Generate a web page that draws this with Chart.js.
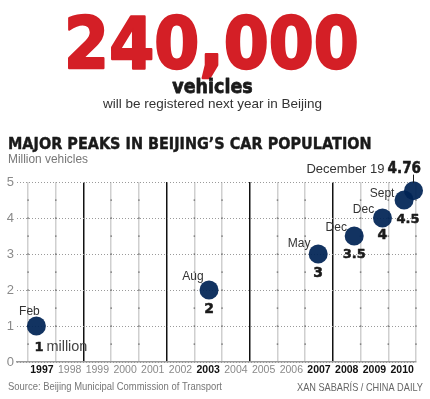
<!DOCTYPE html>
<html>
<head>
<meta charset="utf-8">
<script src="https://cdn.jsdelivr.net/npm/chart.js@4.4.1/dist/chart.umd.min.js"></script>
<style>
  html, body { margin: 0; padding: 0; background: #fff; }
  #wrap { position: relative; width: 430px; height: 399px; }
</style>
</head>
<body>
<div id="wrap"><canvas id="carChart"></canvas></div>
<script>
const yearLabels = ['1997', '1998', '1999', '2000', '2001', '2002', '2003',
                    '2004', '2005', '2006', '2007', '2008', '2009', '2010'];
const boldYears = ['1997', '2003', '2007', '2008', '2009', '2010'];
const dividerYears = [1999, 2002, 2005, 2008];
const peakMonths = ['Feb', 'Aug', 'May', 'Dec', 'Dec', 'Sept', 'December 19'];
const peakDates = [1997.3, 2003.53, 2007.47, 2008.77, 2009.79, 2010.57, 2010.91];
const peakValues = [1, 2, 3, 3.5, 4, 4.5, 4.76];
const peakLabels = ['1', '2', '3', '3.5', '4', '4.5', '4.76'];

// year boundaries for the grid (one more than the labels)
const yearEdges = yearLabels.map(Number).concat(Number(yearLabels[yearLabels.length - 1]) + 1);

// label placement around each dot: [dx, dy] of month text, [dx, dy] of value text
const monthOffsets = [[-7, -11], [-16, -10], [-19, -7], [-18, -5.5], [-19, -5], [-22, -3], [-29, -18]];
const valueOffsets = [[-2, 25], [0, 23], [0, 23], [0, 22], [0, 21], [4, 23], [-26, -18]];

const NAVY = 'rgba(0, 35, 85, 0.93)';

function tickVal(c) {
    return c && c.tick ? c.tick.value : null;
}

function fitText(ctx, text, x, y, font, color, width, align, stroke) {
    ctx.save();
    ctx.font = font;
    ctx.fillStyle = color;
    ctx.textBaseline = 'alphabetic';
    ctx.textAlign = align || 'left';
    const w = ctx.measureText(text).width + (stroke || 0);
    const s = width ? width / w : 1;
    ctx.translate(x, y);
    ctx.scale(s, 1);
    if (stroke) {
        ctx.strokeStyle = color;
        ctx.lineWidth = stroke;
        ctx.lineJoin = 'round';
        ctx.strokeText(text, 0, 0);
    }
    ctx.fillText(text, 0, 0);
    ctx.restore();
}

// small dark marks where the dotted lines cross the grey year lines
const crossMarks = {
    id: 'crossMarks',
    beforeDatasetsDraw(chart) {
        const ctx = chart.ctx;
        const xs = chart.scales.x, ys = chart.scales.y;
        ctx.save();
        ctx.fillStyle = '#666';
        yearEdges.forEach(yr => {
            if (dividerYears.includes(yr)) return;
            const px = xs.getPixelForValue(yr);
            for (let v = 0.5; v < 5; v += 0.5) {
                const py = ys.getPixelForValue(v);
                ctx.fillRect(px - 0.75, py - 0.5, 1.5, 1.2);
            }
        });
        ctx.restore();
    }
};

const textPlugin = {
    id: 'texts',
    afterDraw(chart) {
        const ctx = chart.ctx;
        // headline
        fitText(ctx, '240,000', 211.5, 67.5, 'bold 72px "DejaVu Sans"', '#d41f26', 297, 'center', 2.5);
        fitText(ctx, 'vehicles', 212.5, 93, 'bold 20px "DejaVu Sans"', '#1a1a1a', 81, 'center', 0.8);
        fitText(ctx, 'will be registered next year in Beijing', 212.5, 108, '13px "Liberation Sans"', '#333', 219, 'center');
        fitText(ctx, 'MAJOR PEAKS IN BEIJING\u2019S CAR POPULATION', 8, 149, 'bold 15px "DejaVu Sans"', '#1a1a1a', 364, 'left', 0.4);
        fitText(ctx, 'Million vehicles', 8, 163, '13px "Liberation Sans"', '#777', 80, 'left');
        fitText(ctx, 'Source: Beijing Municipal Commission of Transport', 8, 390, '11px "Liberation Sans"', '#777', 214, 'left');
        fitText(ctx, 'XAN SABAR\u00cdS / CHINA DAILY', 423, 391, '11px "Liberation Sans"', '#666', 126, 'right');

        // point annotations
        const xs = chart.scales.x, ys = chart.scales.y;
        peakValues.forEach((v, i) => {
            const px = xs.getPixelForValue(peakDates[i]);
            const py = ys.getPixelForValue(v);
            const [mx, my] = monthOffsets[i];
            const [vx, vy] = valueOffsets[i];
            if (i === peakValues.length - 1) {
                fitText(ctx, peakMonths[i], px + mx, py + my, '13px "Liberation Sans"', '#333', 0, 'right');
                fitText(ctx, peakLabels[i], px + vx, py + vy, 'bold 15px "DejaVu Sans"', '#1a1a1a', 34, 'left', 0.5);
                ctx.save();
                ctx.strokeStyle = '#1a1a1a';
                ctx.lineWidth = 1;
                ctx.beginPath();
                ctx.moveTo(px, py + my + 2);
                ctx.lineTo(px, py - 8);
                ctx.stroke();
                ctx.restore();
                return;
            }
            fitText(ctx, peakMonths[i], px + mx, py + my, '12px "Liberation Sans"', '#333', 0, 'center');
            if (i === 0) {
                fitText(ctx, peakLabels[i], px + vx, py + vy, 'bold 13px "DejaVu Sans"', '#1a1a1a', 0, 'left', 0.5);
                fitText(ctx, 'million', px + vx + 12, py + vy, '14.5px "Liberation Sans"', '#444', 41, 'left');
            } else {
                const size = peakLabels[i].length > 1 ? 13 : 14;
                fitText(ctx, peakLabels[i], px + vx, py + vy, 'bold ' + size + 'px "DejaVu Sans"', '#1a1a1a', 0, 'center', 0.5);
            }
        });
    }
};

const ctx = document.getElementById('carChart').getContext('2d');
new Chart(ctx, {
    type: 'scatter',
    data: {
        datasets: [{
            data: peakDates.map((d, i) => ({ x: d, y: peakValues[i] })),
            backgroundColor: NAVY,
            borderWidth: 0,
            pointRadius: 9.5,
            pointHoverRadius: 9.5,
            clip: false
        }]
    },
    options: {
        responsive: true,
        maintainAspectRatio: false,
        animation: false,
        events: [],
        layout: { padding: { top: 182, right: 14, bottom: 0, left: 0 } },
        plugins: {
            legend: { display: false },
            tooltip: { enabled: false }
        },
        scales: {
            x: {
                type: 'linear',
                position: 'bottom',
                min: 1996.6,
                max: 2011,
                afterBuildTicks: scale => { scale.ticks = yearEdges.map(v => ({ value: v })); },
                afterFit: scale => { scale.height = 0; },
                ticks: { display: false },
                grid: {
                    drawTicks: false,
                    color: c => dividerYears.includes(tickVal(c)) ? '#111' : '#cfcfcf',
                    lineWidth: 1.5
                },
                border: { display: true, color: '#9a9a9a', width: 1.5 }
            },
            xl: {
                type: 'linear',
                position: 'bottom',
                min: 1996.1,
                max: 2010.5,
                afterBuildTicks: scale => { scale.ticks = yearLabels.map(v => ({ value: Number(v) })); },
                afterFit: scale => { scale.height = 37; },
                grid: { display: false, drawTicks: false },
                border: { display: false },
                ticks: {
                    autoSkip: false,
                    maxRotation: 0,
                    padding: 2,
                    callback: v => String(v),
                    color: c => boldYears.includes(String(tickVal(c))) ? '#111' : '#8a8a8a',
                    font: c => ({
                        family: '"Liberation Sans"',
                        size: 10.5,
                        weight: boldYears.includes(String(tickVal(c))) ? 'bold' : 'normal'
                    })
                }
            },
            y: {
                min: 0,
                max: 5,
                afterFit: scale => { scale.width = 17; },
                ticks: {
                    stepSize: 0.5,
                    padding: 3,
                    color: '#8a8a8a',
                    font: { family: '"Liberation Sans"', size: 13 },
                    callback: v => Number.isInteger(v) ? v : ''
                },
                grid: {
                    drawTicks: false,
                    color: c => Number.isInteger(tickVal(c)) ? '#9a9a9a' : '#c4c4c4',
                    lineWidth: 1
                },
                border: { display: false, dash: [1, 2] }
            }
        }
    },
    plugins: [crossMarks, textPlugin]
});
</script>
</body>
</html>
